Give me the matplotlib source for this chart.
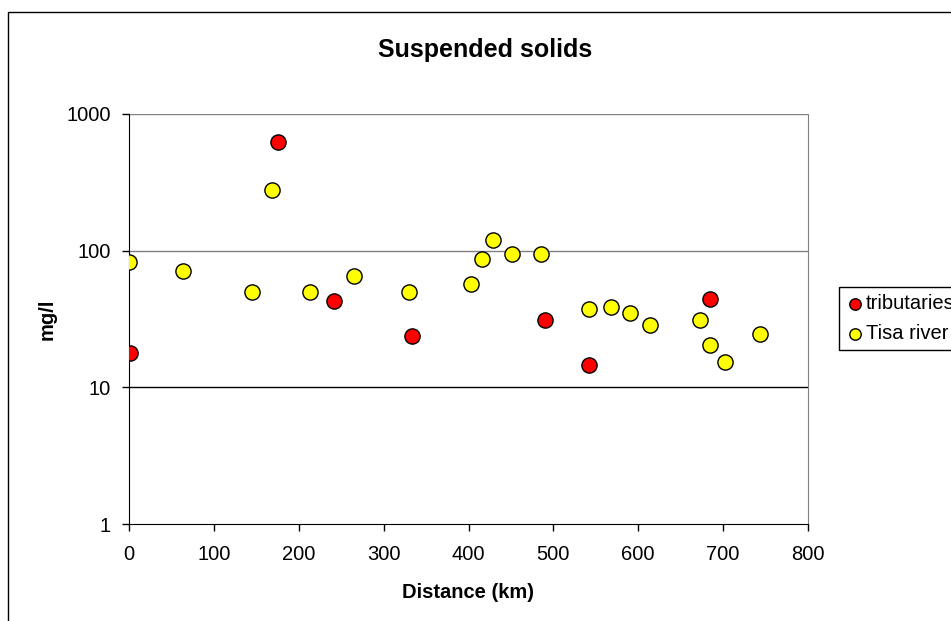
import matplotlib.pyplot as plt
from matplotlib.patches import Rectangle

plt.rcParams['font.family'] = ['Liberation Sans', 'DejaVu Sans']

# tributaries (red)
trib_km = [1, 175, 241, 333, 490, 542, 684]
trib_mg = [17.9, 620, 43, 23.9, 31.3, 14.5, 44.2]

# Tisa river (yellow)
tisa_km = [0, 64, 145, 169, 213, 265, 330, 403, 416, 429, 451, 485,
           542, 568, 590, 614, 673, 684, 702, 743]
tisa_mg = [82.5, 71, 50, 280, 50, 65, 50, 57.5, 87, 120, 95, 95,
           37.7, 39, 34.7, 28.8, 31.3, 20.4, 15.2, 24.6]

x_ticks = [0, 100, 200, 300, 400, 500, 600, 700, 800]
y_ticks = [1, 10, 100, 1000]

fig = plt.figure(figsize=(9.51, 6.21), dpi=100)
ax = fig.add_axes([129 / 951, 1 - 524 / 621, 679 / 951, 410 / 621])

# outer chart frame
fig.patches.append(Rectangle((8 / 951, -0.1), 2, 1 - 12 / 621 + 0.1,
                             transform=fig.transFigure, fill=False,
                             edgecolor='black', lw=1))

ax.scatter(trib_km, trib_mg, s=120, c='#ff0000', edgecolors='black',
           linewidths=1, zorder=3, label='tributaries')
ax.scatter(tisa_km, tisa_mg, s=120, c='#ffff00', edgecolors='black',
           linewidths=1, zorder=3, label='Tisa river')

ax.set_yscale('log')
ax.set_xlim(0, 800)
ax.set_ylim(1, 1000)
ax.set_xticks(x_ticks)
ax.set_yticks(y_ticks)
ax.set_yticklabels([str(v) for v in y_ticks])
ax.minorticks_off()
ax.tick_params(labelsize=14.5, length=5, width=1, direction='out')
ax.tick_params(axis='x', pad=10)
ax.tick_params(axis='y', pad=8)

# gridlines
for v, col in [(1000, '#808080'), (100, '#808080'), (10, 'black')]:
    ax.axhline(v, color=col, lw=1, zorder=1)

ax.spines['left'].set_color('black')
ax.spines['bottom'].set_color('black')
ax.spines['top'].set_visible(False)
ax.spines['right'].set_color('#808080')

fig.text(485 / 951, 1 - 50 / 621, 'Suspended solids', fontsize=18,
         fontweight='bold', ha='center', va='center')
ax.set_xlabel('Distance (km)', fontsize=14.5, fontweight='bold')
ax.xaxis.set_label_coords(0.5, -(592 - 524) / 410)
ax.xaxis.label.set_va('center')
ax.set_ylabel('mg/l', fontsize=14.5, fontweight='bold')
ax.yaxis.set_label_coords(-(129 - 47) / 679, 0.5)
ax.yaxis.label.set_va('center')

fig.legend(loc='upper left', bbox_to_anchor=(839 / 951, 1 - 287 / 621),
           fontsize=14.5, frameon=True, fancybox=False, edgecolor='black',
           handletextpad=0.1, handlelength=0.9, borderpad=0.35,
           labelspacing=0.55, markerscale=0.75, borderaxespad=0,
           framealpha=1)

fig.savefig('out.png', dpi=100)
